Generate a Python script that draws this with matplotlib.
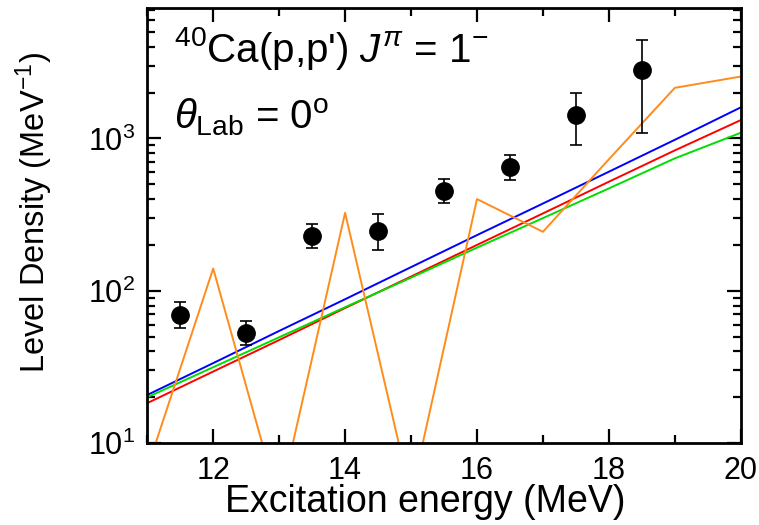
import numpy as np
import matplotlib.pyplot as plt
from matplotlib.ticker import LogLocator, MultipleLocator, NullFormatter

plt.rcParams['font.family'] = ['Liberation Sans', 'DejaVu Sans']
plt.rcParams['mathtext.fontset'] = 'custom'
plt.rcParams['mathtext.rm'] = 'Liberation Sans'
plt.rcParams['mathtext.it'] = 'Liberation Sans:italic'

# Measured level density, 40Ca(p,p') 1- states
exp_energy = [11.5, 12.5, 13.5, 14.5, 15.5, 16.5, 17.5, 18.5]
exp_density = [69, 53, 230, 248, 450, 650, 1430, 2800]
exp_err_low = [57, 44, 192, 186, 375, 530, 900, 1090]
exp_err_high = [84, 63, 276, 320, 540, 780, 2000, 4450]

# Model predictions at integer excitation energies
model_energy = [11, 12, 13, 14, 15, 16, 17, 18, 19, 20]
blue_density = [20.7, 33.5, 54.5, 88, 143, 232, 374, 605, 980, 1600]
red_density = [18.3, 29.5, 47.5, 77, 124, 200, 322, 520, 835, 1320]
green_density = [20.0, 31.5, 49.5, 78, 122, 192, 300, 470, 740, 1090]
orange_density = [6.8, 140, 4.0, 325, 4.5, 400, 244, 730, 2150, 2550]

fig = plt.figure(figsize=(7.59, 5.25), dpi=100)
ax = fig.add_axes([0.194, 0.156, 0.782, 0.829])

ax.plot(model_energy, blue_density, color='#0000ff', lw=1.4)
ax.plot(model_energy, red_density, color='#ff0000', lw=1.4)
ax.plot(model_energy, green_density, color='#00dd00', lw=1.4)
ax.plot(model_energy, orange_density, color='#ff8c1a', lw=1.4)

yerr = [np.array(exp_density) - np.array(exp_err_low),
        np.array(exp_err_high) - np.array(exp_density)]
ax.errorbar(exp_energy, exp_density, yerr=yerr, fmt='o', color='black',
            ms=12.5, elinewidth=1.2, capsize=4.5, capthick=1.2, zorder=5)

ax.set_yscale('log')
ax.set_xlim(11, 20)
ax.set_ylim(10, 7200)

ax.xaxis.set_major_locator(MultipleLocator(2))
ax.xaxis.set_minor_locator(MultipleLocator(1))
ax.yaxis.set_major_locator(LogLocator(base=10, numticks=10))
ax.yaxis.set_minor_locator(LogLocator(base=10, subs=np.arange(2, 10), numticks=10))
ax.yaxis.set_minor_formatter(NullFormatter())

ax.tick_params(which='both', direction='in', top=True, right=True,
               labelsize=22, width=1.6)
ax.tick_params(which='major', length=10, pad=9)
ax.tick_params(which='minor', length=6)
for s in ax.spines.values():
    s.set_linewidth(2)

ax.set_xlabel('Excitation energy (MeV)', fontsize=27)
ax.xaxis.set_label_coords(0.469, -0.095)
ax.set_ylabel('Level Density (MeV$^{-1}$)', fontsize=23.5)
ax.yaxis.set_label_coords(-0.155, 0.53)

ax.text(0.045, 0.96, "$^{40}$Ca(p,p') $\\mathit{J}^{\\pi}$ = 1$^{-}$",
        transform=ax.transAxes, fontsize=29, va='top')
ax.text(0.045, 0.795, "$\\mathit{\\theta}_{\\mathrm{Lab}}$ = 0$^{\\mathrm{o}}$",
        transform=ax.transAxes, fontsize=29, va='top')

fig.savefig('out.png', dpi=100)
